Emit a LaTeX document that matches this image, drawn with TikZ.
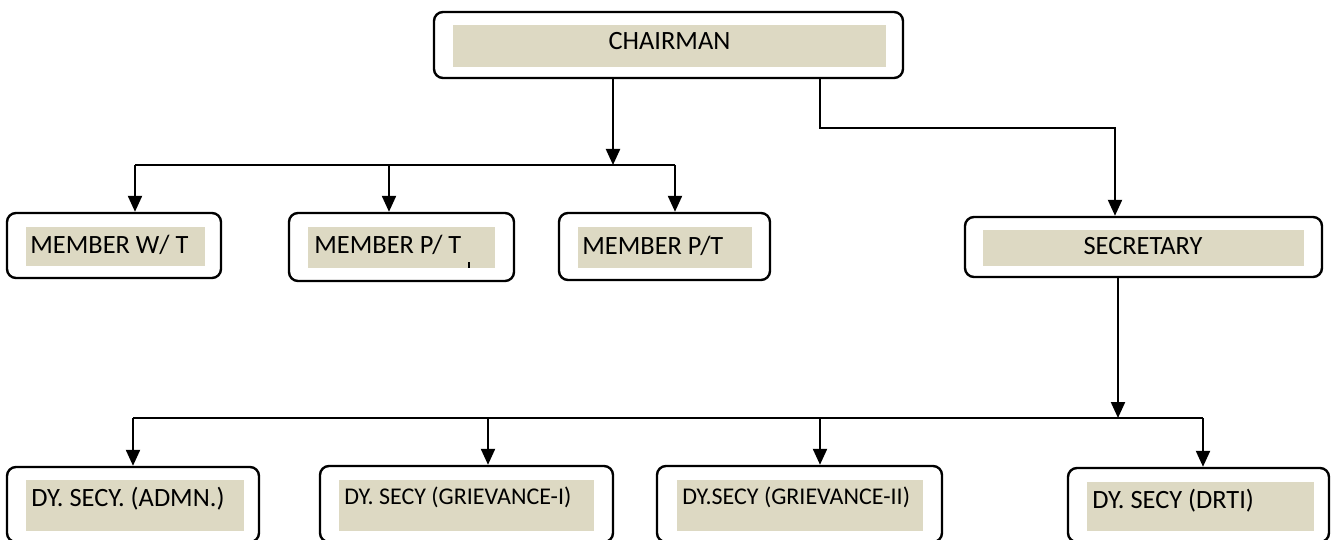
\documentclass[tikz,border=0pt]{standalone}
\usepackage{fontspec}
\setmainfont{Carlito}
\usetikzlibrary{fit,arrows.meta}
\definecolor{fillTan}{HTML}{DDD9C3}
\begin{document}
\begin{tikzpicture}[x=0.5pt,y=-0.5pt,
  outerbox/.style={draw=black,line width=1.2pt,rounded corners=4.5pt,inner sep=0pt},
  fillbox/.style={fill=fillTan,draw=none,inner sep=0pt},
  lbl/.style={anchor=base west,inner sep=0pt,font=\fontsize{13.2pt}{15pt}\selectfont},
  clbl/.style={anchor=base,inner sep=0pt,font=\fontsize{13.2pt}{15pt}\selectfont},
  slbl/.style={anchor=base west,inner sep=0pt,font=\fontsize{12pt}{14pt}\selectfont},
  link/.style={line width=1.1pt},
  arr/.style={line width=1.1pt,-{Triangle[width=7pt,length=8pt]}}]
\useasboundingbox (0,0) rectangle (1334,540);

% boxes
\node[outerbox, fit={(434,12) (903,78)}] (chair) {};
\node[fillbox, fit={(453,25) (886,67)}] (chairF) {};
\node[clbl] (chairT) at (669.5,50) {CHAIRMAN};

\node[outerbox, fit={(7,213) (221,278)}] (m1) {};
\node[fillbox, fit={(26,227) (205,266)}] (m1F) {};
\node[lbl] (m1T) at (30,253.5) {MEMBER W/ T};

\node[outerbox, fit={(289,213) (514,281)}] (m2) {};
\node[fillbox, fit={(308,227) (495,268)}] (m2F) {};
\node[lbl] (m2T) at (314,253) {MEMBER P/ T};
\draw[line width=0.7pt] (469,262) -- (469,268);

\node[outerbox, fit={(559,213) (770,280)}] (m3) {};
\node[fillbox, fit={(578,227) (752,268)}] (m3F) {};
\node[lbl] (m3T) at (582,254) {MEMBER P/T};

\node[outerbox, fit={(965,217) (1322,277)}] (sec) {};
\node[fillbox, fit={(983,230) (1304,266)}] (secF) {};
\node[clbl] (secT) at (1143,255) {SECRETARY};

\node[outerbox, fit={(7,467) (259,542)}] (d1) {};
\node[fillbox, fit={(26,480) (244,531)}] (d1F) {};
\node[lbl] (d1T) at (31,506) {DY. SECY. (ADMN.)};

\node[outerbox, fit={(320,466) (613,542)}] (d2) {};
\node[fillbox, fit={(339,480) (594,531)}] (d2F) {};
\node[slbl] (d2T) at (344,504) {DY. SECY (GRIEVANCE-I)};

\node[outerbox, fit={(657,466) (942,542)}] (d3) {};
\node[fillbox, fit={(677,480) (923,531)}] (d3F) {};
\node[slbl] (d3T) at (682,504) {DY.SECY (GRIEVANCE-II)};

\node[outerbox, fit={(1068,468) (1329,542)}] (d4) {};
\node[fillbox, fit={(1087,482) (1314,531)}] (d4F) {};
\node[lbl] (d4T) at (1092,508) {DY. SECY (DRTI)};

% connectors: chairman to members
\coordinate (jm) at (613,165);
\coordinate (jL) at (135,165);
\coordinate (jM2) at (389,165);
\coordinate (jR) at (675,165);
\draw[arr] (chair.south -| jm) -- (jm);
\draw[link] (jL) -- (jR);
\draw[arr] (jL) -- (jL |- m1.north);
\draw[arr] (jM2) -- (jM2 |- m2.north);
\draw[arr] (jR) -- (jR |- m3.north);

% chairman to secretary
\coordinate (cs1) at (820,128);
\coordinate (cs2) at (1115,128);
\draw[arr] (chair.south -| cs1) -- (cs1) -- (cs2) -- (cs2 |- sec.north);

% secretary to deputies
\coordinate (js) at (1118,418);
\coordinate (jb1) at (133,418);
\coordinate (jb2) at (488,418);
\coordinate (jb3) at (820,418);
\coordinate (jb4) at (1203,418);
\draw[arr] (sec.south -| js) -- (js);
\draw[link] (jb1) -- (jb4);
\draw[arr] (jb1) -- (jb1 |- d1.north);
\draw[arr] (jb2) -- (jb2 |- d2.north);
\draw[arr] (jb3) -- (jb3 |- d3.north);
\draw[arr] (jb4) -- (jb4 |- d4.north);
\end{tikzpicture}
\end{document}
